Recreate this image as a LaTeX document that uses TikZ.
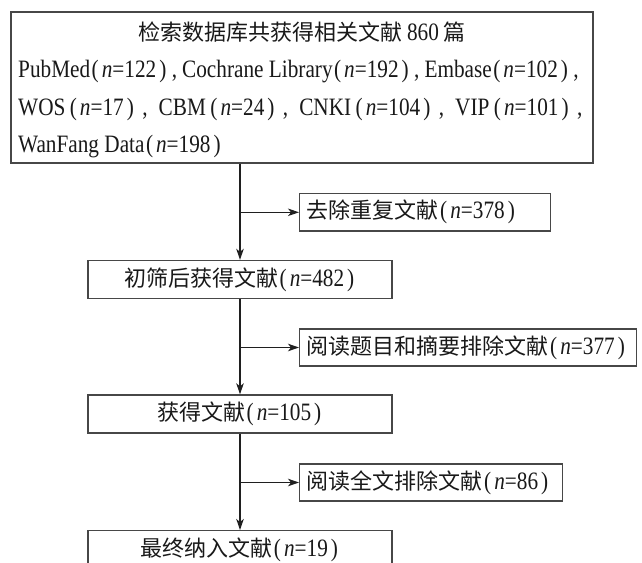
\documentclass[tikz,border=0pt]{standalone}
\usepackage{fontspec}
\setmainfont{Liberation Serif}[FakeStretch=0.85]
\newfontfamily\cjk[Scale=0.88]{Noto Sans CJK SC}
\usepackage{tikz}
\usetikzlibrary{arrows.meta, positioning, calc}

\newcommand{\zh}[1]{{\cjk #1}}
\newcommand{\nn}[1]{\kern1.5pt(\kern3pt\textit{n}=#1\kern3pt)\kern1.5pt}
\newcommand{\cm}{\kern4pt,\kern5pt}
\newcommand{\csep}{\kern7pt,\kern11pt}

\begin{document}
\begin{tikzpicture}[
        x=1pt, y=1pt,
        font=\fontsize{25}{29}\selectfont,
        box/.style={draw=black!72, line width=1.4pt, fill=white, inner sep=0pt, minimum height=38pt, text=black!90},
        sidebox/.style={box, anchor=west, inner xsep=7pt, align=left},
        txt/.style={inner sep=0pt, text=black!90},
        line/.style={draw=black!88, line width=1.2pt},
        arr/.style={line, -{Stealth[length=11pt, width=7.5pt, inset=3pt]}}
    ]
        \useasboundingbox (0,0) rectangle (642,-562);
        \clip (0,0) rectangle (642,-562);

        % Search box
        \node[box, minimum width=582pt, minimum height=151pt] (src) at (302,-87.5) {};
        \node[txt, anchor=base] (ttl) at (302,-40) {\zh{检索数据库共获得相关文献}\,860\,\zh{篇}};
        \node[txt, anchor=base west] (db1) at (18,-77.5) {PubMed\nn{122}\cm Cochrane Library\nn{192}\cm Embase\nn{102}\cm};
        \node[txt, anchor=base west] (db2) at (18,-115) {WOS\kern3pt\nn{17}\csep CBM\kern3pt\nn{24}\csep CNKI\kern3pt\nn{104}\csep VIP\kern3pt\nn{101}\kern7pt,};
        \node[txt, anchor=base west] (db3) at (18,-152.5) {WanFang Data\nn{198}};

        % Screening steps
        \node[box, minimum width=304pt] (scr1) at (240,-279.5) {\zh{初筛后获得文献}\nn{482}};
        \node[box, minimum width=304pt] (scr2) at (240,-414) {\zh{获得文献}\nn{105}};
        \node[box, minimum width=304pt, anchor=north] (fin) at (240,-530) {\zh{最终纳入文献}\nn{19}};

        % Excluded
        \node[sidebox, text width=237pt, minimum height=37.5pt] (del1) at (299,-212.3) {\zh{去除重复文献}\nn{378}};
        \node[sidebox, text width=323pt, minimum height=37pt] (del2) at (299,-347.5) {\zh{阅读题目和摘要排除文献}\nn{377}};
        \node[sidebox, text width=249pt, minimum height=37pt] (del3) at (299,-482.5) {\zh{阅读全文排除文献}\nn{86}};

        % Arrows
        \draw[arr] (src.south -| scr1.north) -- (scr1.north);
        \draw[arr] (scr1.south) -- (scr2.north);
        \draw[arr] (scr2.south) -- (fin.north);

        \coordinate (j1) at (scr1.north |- del1.west);
        \coordinate (j2) at (scr2.north |- del2.west);
        \coordinate (j3) at (fin.north |- del3.west);
        \draw[arr] (j1) -- (del1.west);
        \draw[arr] (j2) -- (del2.west);
        \draw[arr] (j3) -- (del3.west);
    \end{tikzpicture}
\end{document}
